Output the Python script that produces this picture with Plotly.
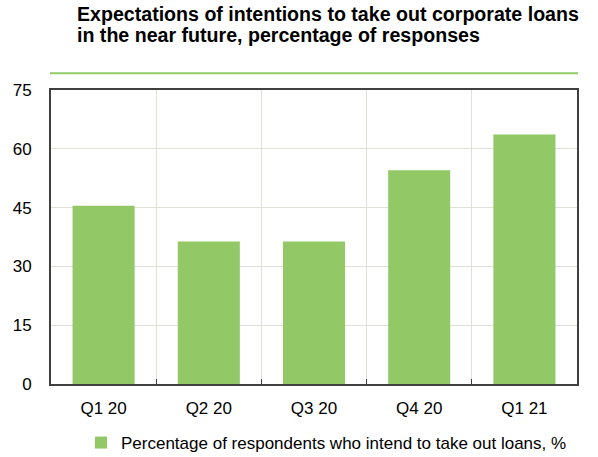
import plotly.graph_objects as go

categories = ["Q1 20", "Q2 20", "Q3 20", "Q4 20", "Q1 21"]
values = [45.45, 36.36, 36.36, 54.55, 63.64]
series_name = "Percentage of respondents who intend to take out loans, %"
y_ticks = [0, 15, 30, 45, 60, 75]
title_lines = ["Expectations of intentions to take out corporate loans",
               "in the near future, percentage of responses"]

W, H = 598, 457
L, R, T, B = 51, 21, 90, 73
plot_w = W - L - R
plot_h = H - T - B

def px_x(x):
    return (x - L) / plot_w

def px_y(y):
    return (H - B - y) / plot_h

GREEN = "#92C866"
FONT = "Liberation Sans, Arial, sans-serif"

fig = go.Figure()
fig.add_trace(go.Bar(
    x=categories, y=values, name=series_name,
    marker=dict(color=GREEN, line=dict(width=0)),
    showlegend=True,
))

title_y = [0.5, 22]
annotations = [dict(
    text="<b>" + line + "</b>", xref="paper", yref="paper",
    x=px_x(75), y=px_y(ty), xanchor="left", yanchor="top",
    align="left", showarrow=False,
    font=dict(size=19.6, family=FONT, color="#000000"),
) for line, ty in zip(title_lines, title_y)]

fig.update_layout(
    width=W, height=H,
    margin=dict(l=L, r=R, t=T, b=B, autoexpand=False),
    paper_bgcolor="white", plot_bgcolor="white",
    bargap=0.41,
    font=dict(family=FONT, size=17, color="#000000"),
    showlegend=True,
    legend=dict(
        orientation="h", x=px_x(81), xanchor="left",
        y=px_y(443), yanchor="middle",
        font=dict(size=17, family=FONT, color="#000000"),
        itemwidth=30, bgcolor="rgba(0,0,0,0)",
    ),
    annotations=annotations,
    shapes=[dict(
        type="line", xref="paper", yref="paper",
        x0=px_x(50), x1=px_x(578), y0=px_y(73.3), y1=px_y(73.3),
        line=dict(color="#8FCB6A", width=2),
    )],
)

fig.update_xaxes(
    type="category", tickson="boundaries",
    showgrid=True, gridcolor="#E0E0D6", gridwidth=1,
    ticks="inside", ticklen=5, tickcolor="#404040", tickwidth=1,
    ticklabelstandoff=8,
    showline=True, linecolor="#404040", linewidth=2, mirror=True,
    tickfont=dict(size=17, family=FONT, color="#000000"),
    range=[-0.5, 4.5],
)
fig.update_yaxes(
    range=[0, 75], tickvals=y_ticks, ticktext=[str(v) for v in y_ticks],
    showgrid=True, gridcolor="#E0E0D6", gridwidth=1,
    ticks="", ticklabelstandoff=14,
    showline=True, linecolor="#404040", linewidth=2, mirror=True,
    zeroline=False,
    tickfont=dict(size=17, family=FONT, color="#000000"),
)

fig.write_html("out.html")
